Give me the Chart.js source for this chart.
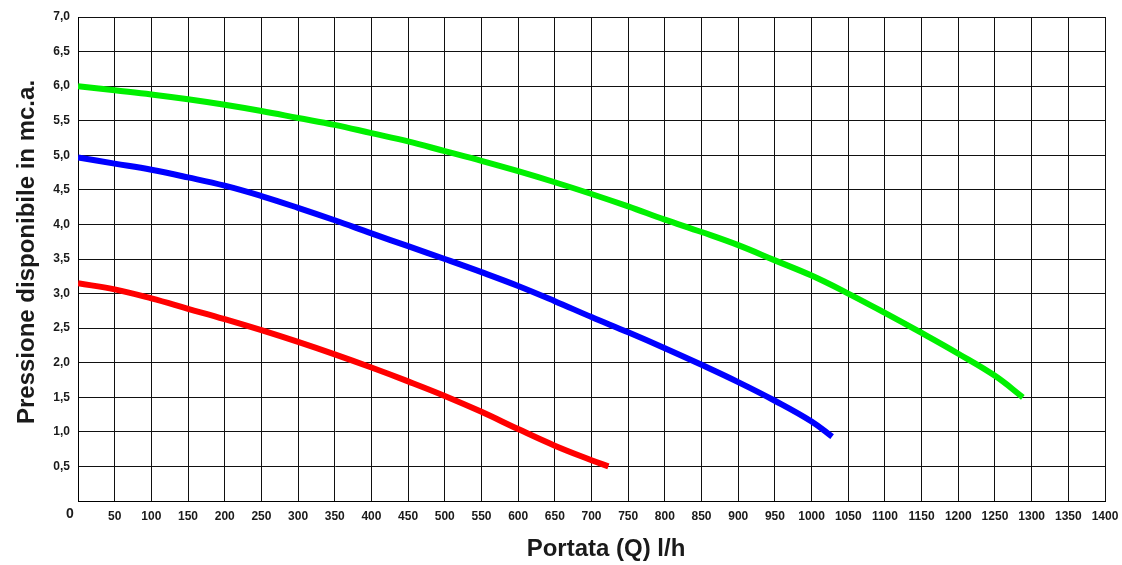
<!DOCTYPE html>
<html>
<head>
<meta charset="utf-8">
<script src="https://cdn.jsdelivr.net/npm/chart.js@4"></script>
<style>
html,body{margin:0;padding:0;background:#fff;}
#wrap{width:1122px;height:565px;}
</style>
</head>
<body>
<div id="wrap"><canvas id="c" width="1122" height="565"></canvas></div>
<script>
// Data
const flowGreen = [0,50,100,150,200,250,300,350,400,450,500,550,600,650,700,750,800,850,900,950,1000,1050,1100,1150,1200,1250,1288];
const pressureGreen = [6.00,5.94,5.88,5.81,5.73,5.64,5.54,5.44,5.32,5.20,5.06,4.92,4.77,4.61,4.44,4.26,4.07,3.89,3.70,3.48,3.26,3.00,2.72,2.43,2.13,1.81,1.50];

const flowBlue = [0,50,100,150,200,250,300,350,400,450,500,550,600,650,700,750,800,850,900,950,1000,1028];
const pressureBlue = [4.97,4.88,4.79,4.68,4.56,4.41,4.24,4.06,3.87,3.685,3.50,3.31,3.11,2.89,2.66,2.44,2.21,1.97,1.72,1.45,1.15,0.93];

const flowRed = [0,50,100,150,200,250,300,350,400,450,500,550,600,650,700,723];
const pressureRed = [3.15,3.06,2.93,2.78,2.63,2.47,2.30,2.12,1.93,1.73,1.52,1.29,1.04,0.80,0.59,0.50];

const xTitle = 'Portata (Q) l/h';
const yTitle = 'Pressione disponibile in mc.a.';
const xMin = 0, xMax = 1400, xStep = 50;
const yMin = 0, yMax = 7, yStep = 0.5;

const toPts = (xs, ys) => xs.map((x, i) => ({x: x, y: ys[i]}));

const FONT = '"Liberation Sans", Arial, Helvetica, sans-serif';

const extras = {
  id: 'extras',
  beforeDraw(chart) {
    const ctx = chart.ctx;
    ctx.save();
    ctx.fillStyle = '#fff';
    ctx.fillRect(0, 0, chart.width, chart.height);
    ctx.restore();
  },
  afterDraw(chart) {
    const ctx = chart.ctx;
    const xs = chart.scales.x, ys = chart.scales.y;
    ctx.save();
    ctx.fillStyle = '#1a1a1a';
    // origin label
    ctx.font = 'bold 14px ' + FONT;
    ctx.textAlign = 'center';
    ctx.textBaseline = 'middle';
    ctx.fillText('0', xs.getPixelForValue(0) - 8, ys.getPixelForValue(0) + 13);
    // x title
    ctx.font = 'bold 24px ' + FONT;
    ctx.fillText(xTitle, 606, 549);
    // y title
    ctx.translate(27, 252);
    ctx.rotate(-Math.PI / 2);
    ctx.fillText(yTitle, 0, 0);
    ctx.restore();
  }
};

new Chart(document.getElementById('c'), {
  type: 'line',
  data: {
    datasets: [
      {data: toPts(flowGreen, pressureGreen), borderColor: '#00f000', borderWidth: 6},
      {data: toPts(flowBlue, pressureBlue), borderColor: '#0000ff', borderWidth: 6},
      {data: toPts(flowRed, pressureRed), borderColor: '#ff0000', borderWidth: 6}
    ]
  },
  options: {
    responsive: false,
    animation: false,
    devicePixelRatio: 1,
    elements: {
      point: {radius: 0, hoverRadius: 0},
      line: {tension: 0.4, borderCapStyle: 'butt', fill: false}
    },
    layout: {padding: {left: 0, top: 17, right: 17, bottom: 0}},
    plugins: {legend: {display: false}, tooltip: {enabled: false}},
    scales: {
      x: {
        type: 'linear', min: xMin, max: xMax,
        afterFit(s) { s.height = 64; s.paddingLeft = 0; s.paddingRight = 0; },
        ticks: {
          stepSize: xStep, padding: 8, autoSkip: false, maxRotation: 0,
          color: '#1a1a1a', font: {family: FONT, size: 12, weight: 'bold'},
          callback: v => v === 0 ? '' : String(v)
        },
        grid: {color: '#111', lineWidth: 1, drawTicks: false},
        border: {display: true, color: '#000', width: 1}
      },
      y: {
        type: 'linear', min: yMin, max: yMax,
        afterFit(s) { s.width = 78; s.paddingTop = 0; s.paddingBottom = 0; },
        ticks: {
          stepSize: yStep, padding: 8, autoSkip: false,
          color: '#1a1a1a', font: {family: FONT, size: 12, weight: 'bold'},
          callback: v => v === 0 ? '' : v.toFixed(1).replace('.', ',')
        },
        grid: {color: '#111', lineWidth: 1, drawTicks: false},
        border: {display: true, color: '#000', width: 1}
      }
    }
  },
  plugins: [extras]
});
</script>
</body>
</html>
